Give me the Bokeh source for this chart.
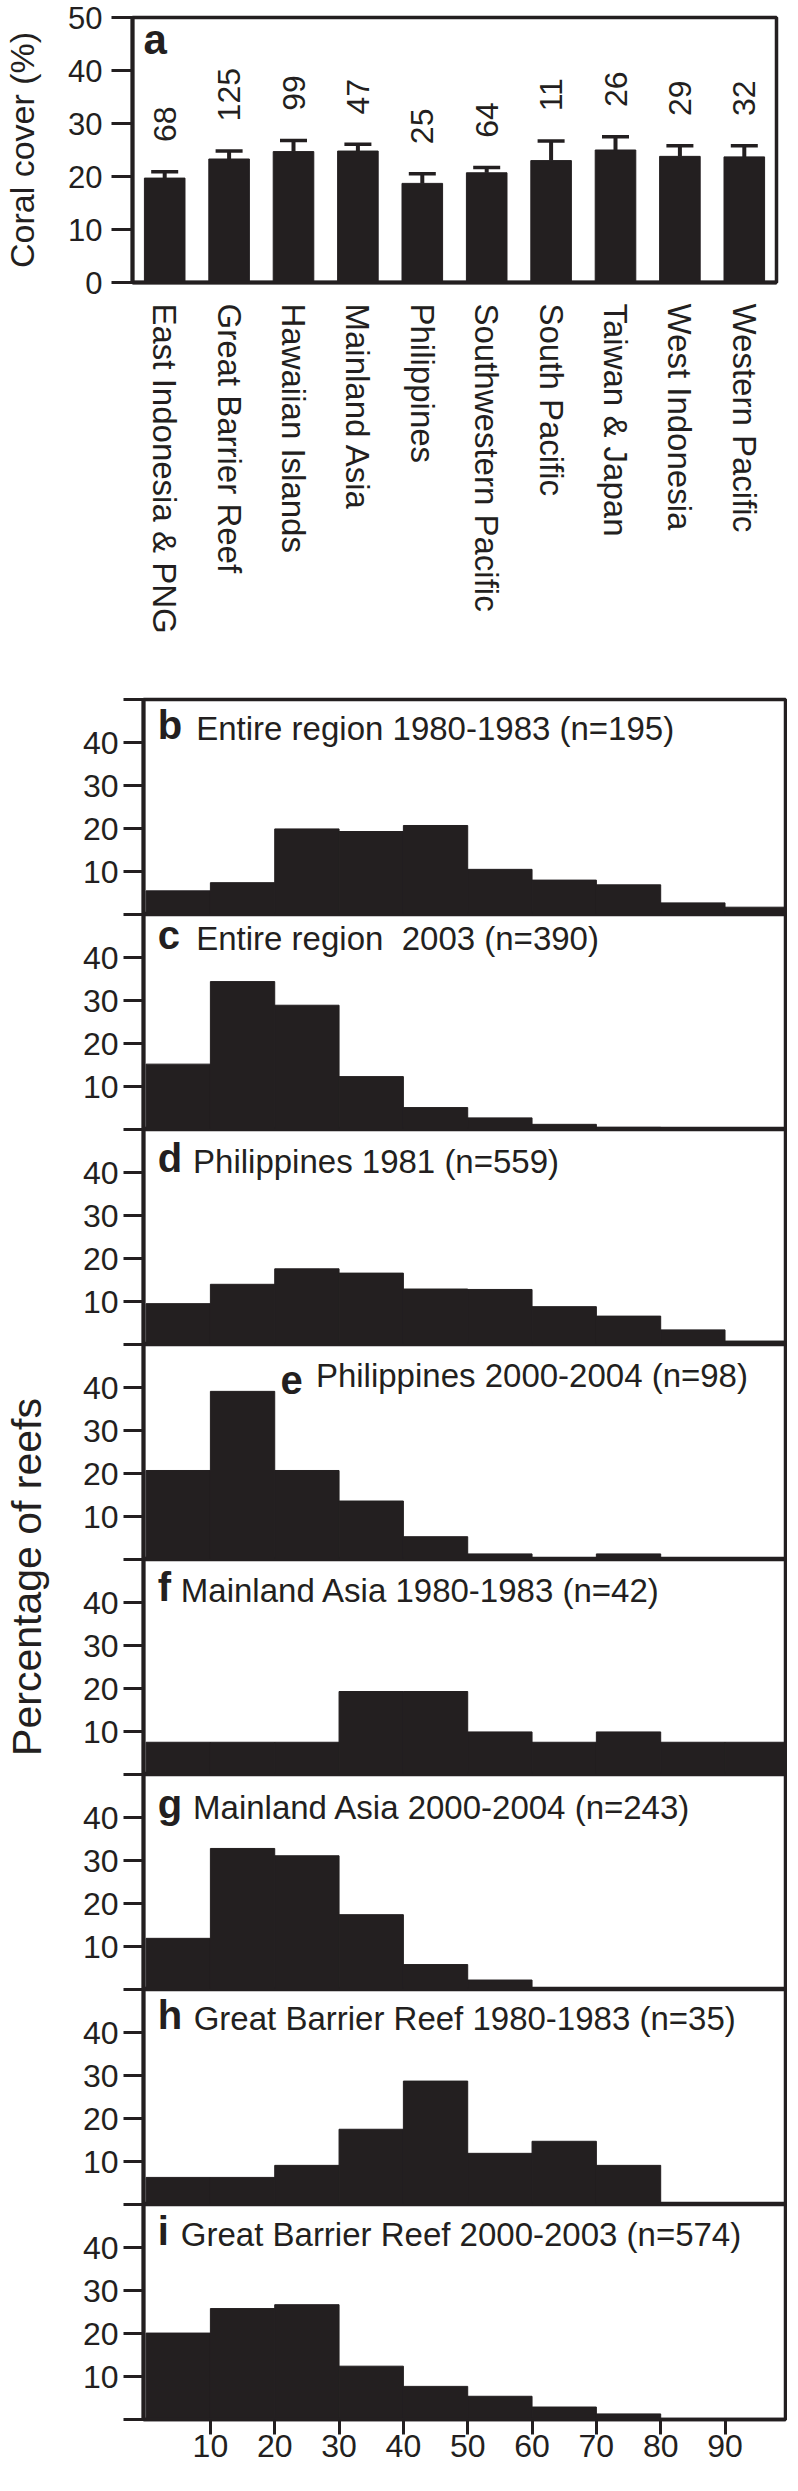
import math
from bokeh.plotting import figure
from bokeh.models import (ColumnDataSource, Range1d, FactorRange, Whisker, TeeHead,
                          Label, FixedTicker)
from bokeh.layouts import column, row
from bokeh.embed import file_html
from bokeh.resources import INLINE
from bokeh.core.properties import value

INK = "#231f20"
FONT = "Liberation Sans"

# ---------------- data ----------------
regions = ["East Indonesia & PNG", "Great Barrier Reef", "Hawaiian Islands",
           "Mainland Asia", "Philippines", "Southwestern Pacific",
           "South Pacific", "Taiwan & Japan", "West Indonesia", "Western Pacific"]
cover_mean = [19.7, 23.3, 24.7, 24.8, 18.7, 20.7, 23.0, 25.0, 23.8, 23.7]
cover_upper = [20.9, 24.8, 26.8, 26.1, 20.5, 21.7, 26.7, 27.5, 25.8, 25.8]
n_reefs = [68, 125, 99, 47, 25, 64, 11, 26, 29, 32]

bin_edges = [0, 10, 20, 30, 40, 50, 60, 70, 80, 90, 100]
x_ticks = [10, 20, 30, 40, 50, 60, 70, 80, 90]
y_ticks = [0, 10, 20, 30, 40, 50]

b_entire_1980 = [5.5, 7.4, 19.9, 19.3, 20.7, 10.5, 8.0, 6.9, 2.7, 1.7]
c_entire_2003 = [15.2, 34.4, 28.9, 12.3, 5.1, 2.7, 1.2, 0.5, 0.0, 0.0]
d_phil_1981 = [9.5, 14.0, 17.6, 16.6, 12.9, 12.8, 8.8, 6.6, 3.4, 0.8]
e_phil_2000 = [20.7, 39.1, 20.7, 13.6, 5.3, 1.3, 0.0, 1.3, 0.0, 0.0]
f_asia_1980 = [7.5, 7.5, 7.5, 19.3, 19.3, 9.9, 7.5, 9.9, 7.5, 7.5]
g_asia_2000 = [11.9, 32.8, 31.1, 17.4, 5.8, 2.2, 0.0, 0.0, 0.0, 0.0]
h_gbr_1980 = [6.3, 6.3, 9.1, 17.5, 28.7, 11.9, 14.7, 9.1, 0.0, 0.0]
i_gbr_2000 = [20.1, 25.8, 26.7, 12.4, 7.7, 5.4, 2.9, 1.3, 0.0, 0.0]

panel_letters = ["b", "c", "d", "e", "f", "g", "h", "i"]
panel_titles = ["Entire region 1980-1983 (n=195)",
                "Entire region \u00a02003 (n=390)",
                "Philippines 1981 (n=559)",
                "Philippines 2000-2004 (n=98)",
                "Mainland Asia 1980-1983 (n=42)",
                "Mainland Asia 2000-2004 (n=243)",
                "Great Barrier Reef 1980-1983 (n=35)",
                "Great Barrier Reef 2000-2003 (n=574)"]
panel_values = [b_entire_1980, c_entire_2003, d_phil_1981, e_phil_2000,
                f_asia_1980, g_asia_2000, h_gbr_1980, i_gbr_2000]

# ---------------- layout / style ----------------
# (letter x, title x) in data units, title baseline offset (px) from panel top
title_layout = [(1.8, 7.8, 47), (1.8, 7.8, 42), (1.8, 7.3, 50), (20.9, 26.4, 49),
                (1.8, 5.4, 49), (1.8, 7.3, 51), (1.8, 7.4, 47), (1.8, 5.4, 48)]
PANEL_H = 215
FIRST_TOP = 19
LAST_BOTTOM = 54
A_H = 680
A_TOP = 17
A_FRAME = 265
LAB_W = 52
LAB_BORDER = 48
BI_H = FIRST_TOP + 8 * PANEL_H + LAST_BOTTOM


def style_common(p):
    p.xgrid.visible = False
    p.ygrid.visible = False
    p.outline_line_color = INK
    p.outline_line_width = 3.5
    p.background_fill_color = "white"
    p.border_fill_color = "white"


# ---------------- panel a ----------------
src = ColumnDataSource(dict(region=regions, mean=cover_mean, upper=cover_upper,
                            n=[str(v) for v in n_reefs],
                            ly=[u + 5.6 for u in cover_upper]))

pa = figure(x_range=FactorRange(*regions), y_range=Range1d(0, 50),
            width=780, height=A_H, output_backend="svg", toolbar_location=None,
            min_border_left=132, min_border_right=4, min_border_top=A_TOP,
            min_border_bottom=A_H - A_TOP - A_FRAME)
style_common(pa)
pa.vbar(x="region", top="mean", width=0.63, source=src, color=INK)
pa.add_layout(Whisker(source=src, base="region", upper="upper", lower="mean",
                      dimension="height", line_color=INK, line_width=4,
                      upper_head=TeeHead(size=27, line_color=INK, line_width=3.5),
                      lower_head=None))
pa.text(x="region", y="ly", text="n", source=src, angle=math.pi / 2,
        text_align="left", text_baseline="middle", text_color=INK,
        text_font=value(FONT), text_font_size="32px")
pa.add_layout(Label(x=0.17, y=41.5, text="a", text_font=FONT, text_font_style="bold",
                    text_font_size="42px", text_color=INK))

pa.yaxis.ticker = FixedTicker(ticks=y_ticks)
pa.yaxis.axis_label = "Coral cover (%)"
pa.yaxis.axis_label_standoff = 24
pa.yaxis.axis_label_text_font = FONT
pa.yaxis.axis_label_text_font_style = "normal"
pa.yaxis.axis_label_text_font_size = "34px"
pa.yaxis.axis_label_text_color = INK
pa.yaxis.axis_line_width = 4
pa.yaxis.axis_line_color = INK
pa.yaxis.major_tick_line_width = 3
pa.yaxis.major_tick_line_color = INK
pa.yaxis.major_tick_out = 21
pa.yaxis.major_tick_in = 0
pa.yaxis.minor_tick_line_color = None
pa.yaxis.major_label_standoff = 9
pa.yaxis.major_label_text_font = FONT
pa.yaxis.major_label_text_font_size = "31px"
pa.yaxis.major_label_text_color = INK

pa.xaxis.axis_line_width = 4
pa.xaxis.axis_line_color = INK
pa.xaxis.major_tick_line_color = None
pa.xaxis.minor_tick_line_color = None
pa.xaxis.major_tick_out = 0
pa.xaxis.major_tick_in = 0
pa.xaxis.major_label_orientation = "vertical"
pa.xaxis.major_label_standoff = 21
pa.xaxis.major_label_text_font = FONT
pa.xaxis.major_label_text_font_size = "33px"
pa.xaxis.major_label_text_color = INK

# ---------------- panels b-i ----------------
figs = []
for k, (vals, letter, title, lay) in enumerate(zip(panel_values, panel_letters,
                                                  panel_titles, title_layout)):
    first = k == 0
    last = k == len(panel_values) - 1
    top_b = FIRST_TOP if first else 0
    bot_b = LAST_BOTTOM if last else 0
    p = figure(width=787 - LAB_W, height=PANEL_H + top_b + bot_b,
               x_range=Range1d(-0.4, 99.4), y_range=Range1d(0, 50),
               output_backend="svg", toolbar_location=None,
               min_border_left=143 - LAB_W, min_border_right=2,
               min_border_top=top_b, min_border_bottom=bot_b)
    style_common(p)
    p.quad(left=bin_edges[:-1], right=bin_edges[1:], bottom=0, top=vals,
           fill_color=INK, line_color=INK, line_width=1)

    p.yaxis.ticker = FixedTicker(ticks=y_ticks)
    p.yaxis.major_label_overrides = {0: "", 50: ""}
    p.yaxis.axis_line_width = 4
    p.yaxis.axis_line_color = INK
    p.yaxis.major_tick_line_width = 3
    p.yaxis.major_tick_line_color = INK
    p.yaxis.major_tick_out = 20
    p.yaxis.major_tick_in = 0
    p.yaxis.minor_tick_line_color = None
    p.yaxis.major_label_standoff = 5
    p.yaxis.major_label_text_font = FONT
    p.yaxis.major_label_text_font_size = "32px"
    p.yaxis.major_label_text_color = INK

    if last:
        p.xaxis.ticker = FixedTicker(ticks=x_ticks)
        p.xaxis.axis_line_width = 3.5
        p.xaxis.axis_line_color = INK
        p.xaxis.major_tick_line_width = 3
        p.xaxis.major_tick_line_color = INK
        p.xaxis.major_tick_out = 15
        p.xaxis.major_tick_in = 0
        p.xaxis.minor_tick_line_color = None
        p.xaxis.major_label_standoff = 0
        p.xaxis.major_label_text_font = FONT
        p.xaxis.major_label_text_font_size = "32px"
        p.xaxis.major_label_text_color = INK
    else:
        p.xaxis.visible = False

    lx, tx, off = lay
    ty = 50 - off / (PANEL_H / 50.0)
    p.add_layout(Label(x=lx, y=ty, text=letter, text_font=FONT, text_font_style="bold",
                       text_font_size="40px", text_color=INK))
    p.add_layout(Label(x=tx, y=ty, text=title, text_font=FONT,
                       text_font_size="33px", text_color=INK))
    figs.append(p)

# ---------------- shared y-axis title strip for b-i ----------------
lab = figure(width=LAB_W, height=BI_H, x_range=Range1d(0, 1), y_range=Range1d(0, 1),
             x_axis_type=None, output_backend="svg", toolbar_location=None,
             min_border_left=LAB_BORDER, min_border_right=0, min_border_top=0,
             min_border_bottom=0, outline_line_color=None)
lab.xgrid.visible = False
lab.ygrid.visible = False
lab.yaxis.ticker = FixedTicker(ticks=[])
lab.yaxis.axis_line_color = None
lab.yaxis.major_tick_out = 0
lab.yaxis.major_tick_in = 0
lab.yaxis.minor_tick_line_color = None
lab.yaxis.axis_label = "Percentage of reefs"
lab.yaxis.axis_label_standoff = 0
lab.yaxis.axis_label_text_font = FONT
lab.yaxis.axis_label_text_font_style = "normal"
lab.yaxis.axis_label_text_font_size = "41px"
lab.yaxis.axis_label_text_color = INK

layout = column(pa, row(lab, column(*figs, spacing=0), spacing=0), spacing=0)
open("out.html", "w").write(file_html(layout, INLINE))
